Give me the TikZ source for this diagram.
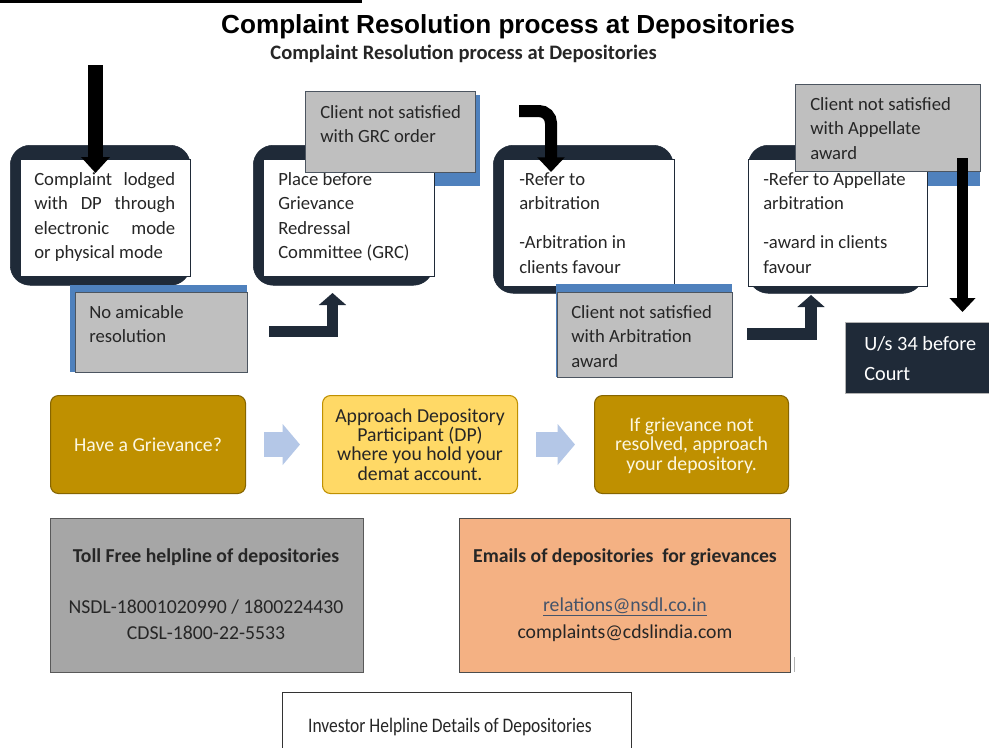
\documentclass[tikz,border=0pt]{standalone}
\usepackage{fontspec}
\setmainfont{Carlito}
\newfontfamily\arialf{Liberation Sans}
\usetikzlibrary{arrows.meta}
\definecolor{navy}{RGB}{31,42,56}
\definecolor{stblue}{RGB}{79,129,189}
\definecolor{boxgray}{RGB}{191,191,191}
\definecolor{dgray}{RGB}{166,166,166}
\definecolor{goldc}{RGB}{191,144,0}
\definecolor{lyellow}{RGB}{255,217,102}
\definecolor{lblue}{RGB}{180,199,231}
\definecolor{orng}{RGB}{244,177,131}
\definecolor{txt}{RGB}{38,38,38}
\definecolor{cream}{RGB}{252,247,225}
\definecolor{linkc}{RGB}{68,84,106}
\newcommand{\fbody}{\fontsize{14pt}{18.4pt}\selectfont}
\begin{document}
\begin{tikzpicture}[x=0.75pt,y=-0.75pt,
  wh/.style 2 args={minimum width=#1*0.75pt, minimum height=#2*0.75pt, inner sep=0pt, anchor=north west},
  darkbox/.style={fill=navy, draw=navy, rounded corners=15pt},
  whitebox/.style={fill=white, draw=navy, line width=0.6pt},
  graybox/.style={fill=boxgray, draw=navy!80, line width=0.6pt},
  bluebox/.style={fill=stblue, draw=none},
  tx/.style={anchor=base west, inner sep=0pt, text width=200*0.75pt, align=flush left, font=\fbody, text=txt},
  blackarrow/.style={draw=black, line width=#1*0.75pt},
  navyarrow/.style={draw=navy, line width=8.5pt, -{Triangle[width=20pt,length=9pt]}},
  flowbox/.style={rounded corners=6pt, line width=0.8pt, inner sep=0pt, align=center},
  flowtext/.style={font=\fontsize{14.8pt}{14.4pt}\selectfont, inner sep=0pt, align=center},
  lbarrow/.style={draw=lblue, line width=19pt, -{Triangle[width=30pt,length=13pt]}},
  infobox/.style={line width=0.8pt, inner sep=0pt, anchor=north west},
  infotext/.style={font=\fontsize{14.8pt}{16pt}\selectfont, text=txt, inner sep=0pt}
]
\useasboundingbox (0,0) rectangle (989,747);
\fill[white] (0,0) rectangle (989,747);
% top bar
\fill[black] (0,0) rectangle (362,3);
% titles
\node[font=\arialf\bfseries\fontsize{19.6pt}{22pt}\selectfont, inner sep=0pt] (title) at (508,27) {Complaint Resolution process at Depositories};
\node[font=\bfseries\fontsize{15.4pt}{16pt}\selectfont, text=txt, inner sep=0pt] (subtitle) at (463.5,54) {Complaint Resolution process at Depositories};

% blue backings that lie behind the step boxes
\node[bluebox, wh={170}{91}] (b2) at (310,95) {};
\node[bluebox, wh={180}{96}] (b4) at (800,90) {};

% step boxes
\node[darkbox, wh={180}{140}] (d1) at (10,145) {};
\node[whitebox, wh={170}{117}] (w1) at (20,159) {};
\node[darkbox, wh={180}{140}] (d2) at (253,145) {};
\node[whitebox, wh={171}{117}] (w2) at (263,159) {};
\node[darkbox, wh={180}{148}] (d3) at (493,145) {};
\node[whitebox, wh={171}{127}] (w3) at (503,159) {};
\node[darkbox, wh={175}{148}] (d4) at (748,145) {};
\node[whitebox, wh={179}{127}] (w4) at (748,159) {};

\node[tx, text width=141*0.75pt, align=justify] (t1) at (34,185) {Complaint\hfill lodged\\with\hfill DP\hfill through\\electronic\hfill mode\\or physical mode};
\node[tx] (t2) at (278,185) {Place before\\Grievance\\Redressal\\Committee (GRC)};
\node[tx] (t3) at (519,185) {-Refer to\\arbitration\\[11pt]-Arbitration in\\clients favour};
\node[tx] (t4) at (763,185) {-Refer to Appellate\\arbitration\\[11pt]-award in clients\\favour};

% gray condition boxes
\node[bluebox, wh={177}{87}] (b1) at (70,285) {};
\node[graybox, wh={172}{80}] (g1) at (75,292) {};
\node[tx] (gt1) at (89,318) {No amicable\\resolution};

\node[graybox, wh={170}{81}] (g2) at (305,91) {};
\node[tx] (gt2) at (320,118) {Client not satisfied\\with GRC order};

\node[bluebox, wh={176}{93}] (b3) at (556,284) {};
\node[graybox, wh={175}{85}] (g3) at (557,292) {};
\node[tx] (gt3) at (571,318) {Client not satisfied\\with Arbitration\\award};

\node[graybox, wh={185}{87}] (g4) at (795,84) {};
\node[tx] (gt4) at (810,110) {Client not satisfied\\with Appellate\\award};

% court box
\node[fill=navy, draw=gray!60, line width=0.8pt, wh={150}{71}] (court) at (845,322) {};
\node[tx, text=white, font=\fontsize{15.2pt}{23pt}\selectfont, text width=140*0.75pt] (ct) at (864,350) {U/s 34 before\\Court};

% arrows
\coordinate (a1s) at (95.5,65);
\coordinate (a1e) at (95.5,173);
\draw[blackarrow=15, -{Triangle[width=21pt,length=12pt]}] (a1s) -- (a1e);

\coordinate (a3s) at (519,111);
\coordinate (a3e) at (551,172);
\draw[blackarrow=12, rounded corners=9pt, -{Triangle[width=20pt,length=11pt]}] (a3s) -| (a3e);

\coordinate (a4s) at (962.5,158);
\coordinate (a4e) at (962.5,312);
\draw[blackarrow=11, -{Triangle[width=19pt,length=10.5pt]}] (a4s) -- (a4e);

\coordinate (aAs) at (269,331.5);
\coordinate (aAe) at (332.5,293);
\draw[navyarrow] (aAs) -| (aAe);
\coordinate (aBs) at (747,334);
\coordinate (aBe) at (811,295);
\draw[navyarrow] (aBs) -| (aBe);

% flow row
\node[flowbox, fill=goldc, draw=goldc!70!black, wh={195}{98}] (f1) at (50,395) {};
\node[flowtext, text=cream] (f1t) at (f1.center) {Have a Grievance?};
\node[flowbox, fill=lyellow, draw=goldc, wh={195}{98}] (f2) at (322,395) {};
\node[flowtext, text=txt] (f2t) at (f2.center) {Approach Depository\\Participant (DP)\\where you hold your\\demat account.};
\node[flowbox, fill=goldc, draw=goldc!70!black, wh={194}{98}] (f3) at (594,395) {};
\node[flowtext, text=cream, font=\fontsize{14.8pt}{14.7pt}\selectfont] (f3t) at ([yshift=-1*0.75pt]f3.center) {If grievance not\\resolved, approach\\your depository.};
\draw[lbarrow] ([xshift=18*0.75pt]f1.east) -- ([xshift=-22*0.75pt]f2.west);
\draw[lbarrow] ([xshift=18*0.75pt]f2.east) -- ([xshift=-19*0.75pt]f3.west);

% info boxes
\node[infobox, fill=dgray, draw=gray!70!black, wh={313}{154}] (i1) at (50,518) {};
\node[infotext, font=\bfseries\fontsize{14.8pt}{16pt}\selectfont] (i1a) at (206,557) {Toll Free helpline of depositories};
\node[infotext] (i1b) at (206,607) {NSDL-18001020990 / 1800224430};
\node[infotext] (i1c) at (206,633) {CDSL-1800-22-5533};

\node[infobox, fill=orng, draw=gray!60!black, wh={331}{154}] (i2) at (459,518) {};
\node[infotext, font=\bfseries\fontsize{14.8pt}{16pt}\selectfont] (i2a) at (625,557) {Emails of depositories \ for grievances};
\node[infotext, text=linkc] (i2b) at (625,607) {\underline{relations@nsdl.co.in}};
\node[infotext] (i2c) at (625,633) {complaints@cdslindia.com};
\draw[gray!60, line width=0.6pt] (794,657) -- (794,672);

\node[infobox, fill=white, draw=black!80, wh={349}{70}] (i3) at (282,692) {};
\node[infotext, font=\fontsize{15.5pt}{16pt}\selectfont] (i3t) at (450,727) {\scalebox{0.845}[1]{Investor Helpline Details of Depositories}};
\end{tikzpicture}
\end{document}
